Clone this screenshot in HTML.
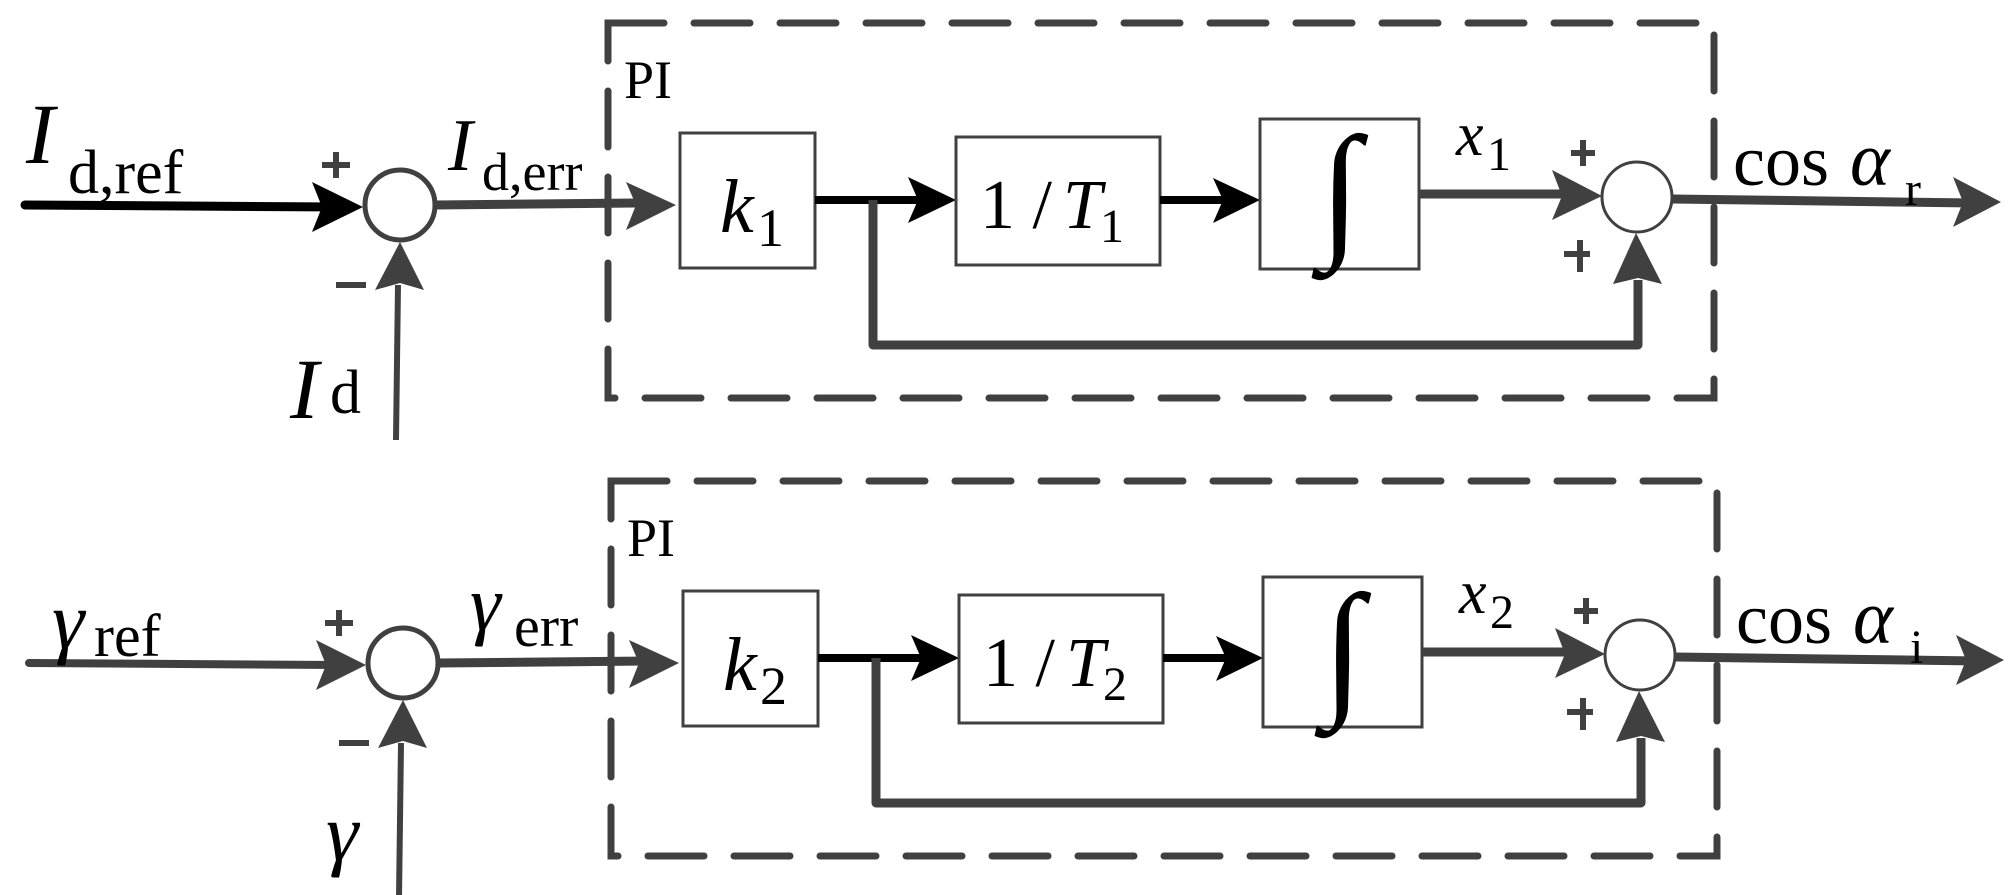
<!DOCTYPE html>
<html><head><meta charset="utf-8"><style>
html,body{margin:0;padding:0;background:#fff;}
svg{display:block;}
</style></head><body>
<svg width="2013" height="895" viewBox="0 0 2013 895" xmlns="http://www.w3.org/2000/svg" font-family="'Liberation Serif', 'Times New Roman', serif" fill="#000">
<defs>
<g id="row">
  <rect x="608" y="23" width="1106" height="375" fill="none" stroke="#404040" stroke-width="7" stroke-dasharray="56 30" stroke-linecap="round"/>
  <text x="624" y="98" font-size="54" font-family="'Liberation Serif', serif">PI</text>
  <circle cx="400" cy="205" r="35" fill="#fff" stroke="#404040" stroke-width="5"/>
  <line x1="436" y1="205" x2="640" y2="203" stroke="#404040" stroke-width="9"/>
  <polygon points="626,182 676,205 626,230 636,205" fill="#404040"/>
  <line x1="398" y1="285" x2="396" y2="440" stroke="#404040" stroke-width="6"/>
  <polygon points="375,290 400,242 424,290 400,283" fill="#404040"/>
  <line x1="336" y1="285" x2="366" y2="285" stroke="#404040" stroke-width="6"/>
  <line x1="322" y1="165" x2="350" y2="165" stroke="#404040" stroke-width="6"/>
  <line x1="336" y1="152" x2="336" y2="178" stroke="#404040" stroke-width="6"/>
  <rect x="680" y="133" width="135" height="135" fill="#fff" stroke="#404040" stroke-width="3"/>
  <line x1="815" y1="200" x2="930" y2="200" stroke="#000" stroke-width="8"/>
  <polygon points="908,177 956,200 908,223 918,200" fill="#000"/>
  <rect x="956" y="137" width="204" height="128" fill="#fff" stroke="#404040" stroke-width="3"/>
  <line x1="1160" y1="200" x2="1235" y2="200" stroke="#000" stroke-width="8"/>
  <polygon points="1213,178 1260,200 1213,223 1223,200" fill="#000"/>
  <rect x="1260" y="119" width="159" height="150" fill="#fff" stroke="#404040" stroke-width="3"/>
  <text x="1340" y="240" font-size="150" text-anchor="middle" font-family="'Liberation Serif', serif">∫</text>
  <line x1="1419" y1="194" x2="1580" y2="194" stroke="#404040" stroke-width="9"/>
  <polygon points="1552,170 1602,196 1552,220 1562,196" fill="#404040"/>
  <circle cx="1637" cy="197" r="35" fill="#fff" stroke="#404040" stroke-width="3"/>
  <line x1="1571" y1="153" x2="1595" y2="153" stroke="#404040" stroke-width="6"/>
  <line x1="1583" y1="140" x2="1583" y2="166" stroke="#404040" stroke-width="6"/>
  <line x1="1564" y1="254" x2="1590" y2="254" stroke="#404040" stroke-width="6"/>
  <line x1="1580" y1="240" x2="1580" y2="272" stroke="#404040" stroke-width="6"/>
  <polyline points="873,200 873,345 1638,345 1638,280" fill="none" stroke="#404040" stroke-width="9" stroke-linejoin="round"/>
  <polygon points="1613,284 1636,233 1662,284 1638,278" fill="#404040"/>
  <line x1="1672" y1="199" x2="1975" y2="203" stroke="#404040" stroke-width="9"/>
  <polygon points="1953,177 2001,202 1953,227 1963,202" fill="#404040"/>
</g>
</defs>

<use href="#row"/>
<use href="#row" transform="translate(3,458)"/>

<g font-family="'Liberation Serif', serif">
<!-- Row 1 -->
<line x1="25" y1="205" x2="340" y2="207" stroke="#000" stroke-width="9" stroke-linecap="round"/>
<polygon points="312,182 363,207 312,232 322,207" fill="#000"/>
<text x="26" y="163" font-size="86" font-style="italic">I</text>
<text x="68" y="193" font-size="62">d,ref</text>
<text x="448" y="170" font-size="74" font-style="italic">I</text>
<text x="482" y="190" font-size="54">d,err</text>
<text x="290" y="418" font-size="86" font-style="italic">I</text>
<text x="330" y="413" font-size="62">d</text>
<text x="720" y="232" font-size="76" font-style="italic">k</text>
<text x="757" y="246" font-size="54">1</text>
<text x="980" y="228" font-size="70">1 / </text>
<text x="1063" y="228" font-size="70" font-style="italic">T</text>
<text x="1100" y="242" font-size="48">1</text>
<text x="1456" y="155" font-size="62" font-style="italic">x</text>
<text x="1487" y="170" font-size="48">1</text>
<text x="1733" y="185" font-size="72">cos</text>
<text x="1850" y="185" font-size="76" font-style="italic">α</text>
<text x="1905" y="205" font-size="48">r</text>

<!-- Row 2 -->
<line x1="29" y1="663" x2="340" y2="665" stroke="#404040" stroke-width="8" stroke-linecap="round"/>
<polygon points="316,640 366,665 316,690 326,665" fill="#404040"/>
<text x="52" y="648" font-size="82" font-style="italic">γ</text>
<text x="94" y="656" font-size="60">ref</text>
<text x="470" y="630" font-size="78" font-style="italic">γ</text>
<text x="514" y="646" font-size="58">err</text>
<text x="326" y="860" font-size="82" font-style="italic">γ</text>
<text x="723" y="690" font-size="76" font-style="italic">k</text>
<text x="760" y="704" font-size="54">2</text>
<text x="983" y="686" font-size="70">1 / </text>
<text x="1066" y="686" font-size="70" font-style="italic">T</text>
<text x="1103" y="700" font-size="48">2</text>
<text x="1459" y="613" font-size="62" font-style="italic">x</text>
<text x="1490" y="628" font-size="48">2</text>
<text x="1736" y="643" font-size="72">cos</text>
<text x="1853" y="643" font-size="76" font-style="italic">α</text>
<text x="1910" y="663" font-size="48">i</text>
</g>
</svg>
</body></html>
